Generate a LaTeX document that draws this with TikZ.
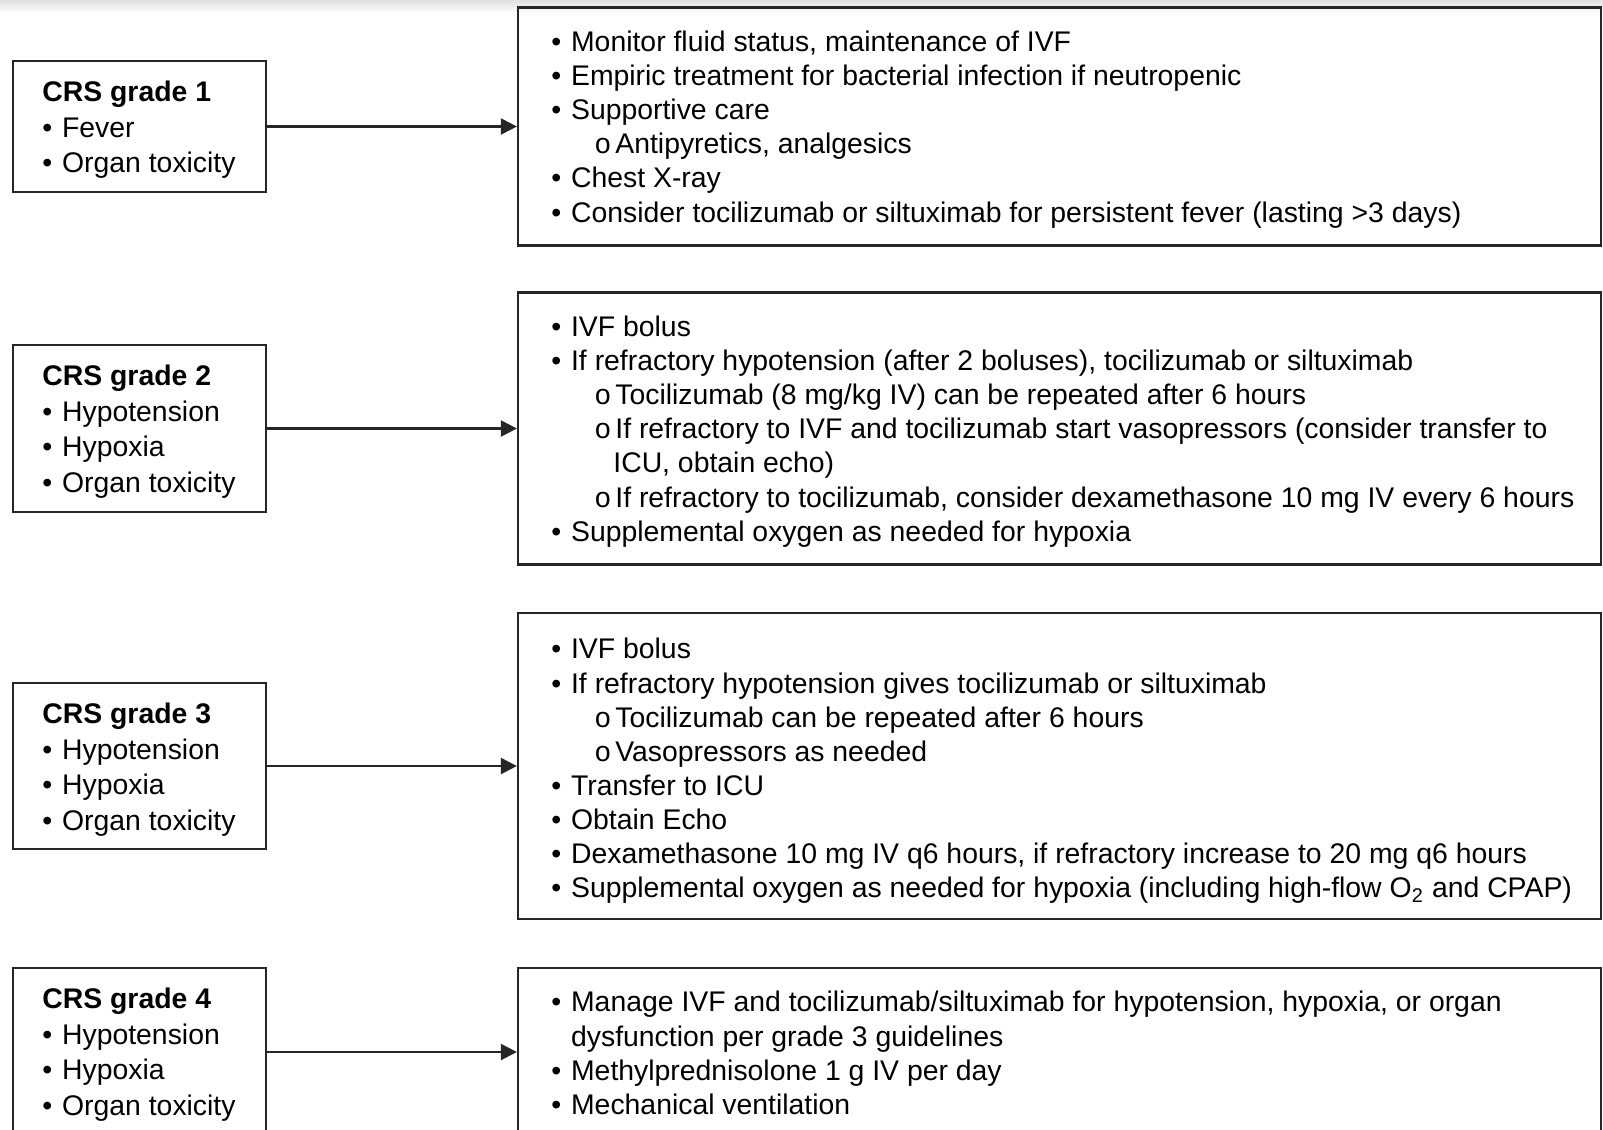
\documentclass[tikz,border=0pt]{standalone}
\usepackage{fontspec}
\setmainfont{Liberation Sans}
\newfontfamily\subfont{Liberation Mono}
\usetikzlibrary{arrows.meta}
\newcommand{\ArrTip}{Triangle[length=6.4pt,width=6.4pt]}
\newcommand{\bu}{\makebox[7.9pt][l]{\textbullet}}
\newcommand{\so}{\hspace*{17.2pt}\makebox[8.4pt][l]{\subfont o}}
\newcommand{\lines}[1]{\parbox[t]{440pt}{#1}}
\tikzset{grade/.style={draw=black!85,line width=0.9pt,minimum width=101.2pt,inner sep=0},
care/.style={draw=black!85,line width=0.9pt,minimum width=433.2pt,inner sep=0},
txt/.style={anchor=base west,inner sep=0,font=\fontsize{11.35pt}{13.65pt}\selectfont},
gtxt/.style={txt,font=\fontsize{11.35pt}{14.2pt}\selectfont},
->-/.style={line width=0.9pt,draw=black!85,-{\ArrTip}}}

\begin{document}
\begin{tikzpicture}[x=0.4pt,y=-0.4pt]
\useasboundingbox(0,0)rectangle(1603,1129);
\shade[top color=black!12,bottom color=white](0,0)rectangle(1603,13);
\node[grade,minimum height=52.4pt](g1)at(139.5,126.5){};\node[care,minimum height=95.2pt](c1)at(1059.5,126.5){};
\node[grade,minimum height=66.8pt](g2)at(139.5,428.5){};\node[care,minimum height=108.8pt](c2)at(1059.5,428.5){};
\node[grade,minimum height=66.4pt](g3)at(139.5,766){};\node[care,minimum height=122.4pt](c3)at(1059.5,766){};
\node[grade,minimum height=67.2pt](g4)at(139.5,1052){};\node[care,minimum height=67.2pt](c4)at(1059.5,1052){};
\foreach \i in {1,...,4}{\draw[->-](g\i.east)--(c\i.west);}
\node[gtxt](gt1)at([shift={(30,42)}]g1.north west){\lines{\textbf{CRS grade 1}\\\bu Fever\\\bu Organ toxicity}};
\node[gtxt](gt2)at([shift={(30,42)}]g2.north west){\lines{\textbf{CRS grade 2}\\\bu Hypotension\\\bu Hypoxia\\\bu Organ toxicity}};
\node[gtxt](gt3)at([shift={(30,42)}]g3.north west){\lines{\textbf{CRS grade 3}\\\bu Hypotension\\\bu Hypoxia\\\bu Organ toxicity}};
\node[gtxt](gt4)at([shift={(30,42)}]g4.north west){\lines{\textbf{CRS grade 4}\\\bu Hypotension\\\bu Hypoxia\\\bu Organ toxicity}};
\node[txt](ct1)at([shift={(34,45)}]c1.north west){\lines{\bu Monitor fluid status, maintenance of IVF\\
\bu Empiric treatment for bacterial infection if neutropenic\\
\bu Supportive care\\
\so Antipyretics, analgesics\\
\bu Chest X-ray\\
\bu Consider tocilizumab or siltuximab for persistent fever (lasting >3 days)}};
\node[txt](ct2)at([shift={(34,45)}]c2.north west){\lines{\bu IVF bolus\\
\bu If refractory hypotension (after 2 boluses), tocilizumab or siltuximab\\
\so Tocilizumab (8 mg/kg IV) can be repeated after 6 hours\\
\so If refractory to IVF and tocilizumab start vasopressors (consider transfer to\\
\hspace*{24.8pt}ICU, obtain echo)\\
\so If refractory to tocilizumab, consider dexamethasone 10 mg IV every 6 hours\\
\bu Supplemental oxygen as needed for hypoxia}};
\node[txt](ct3)at([shift={(34,47)}]c3.north west){\lines{\bu IVF bolus\\
\bu If refractory hypotension gives tocilizumab or siltuximab\\
\so Tocilizumab can be repeated after 6 hours\\
\so Vasopressors as needed\\
\bu Transfer to ICU\\
\bu Obtain Echo\\
\bu Dexamethasone 10 mg IV q6 hours, if refractory increase to 20 mg q6 hours\\
\bu Supplemental oxygen as needed for hypoxia (including high-flow O\textsubscript{2} and CPAP)}};
\node[txt](ct4)at([shift={(34,45)}]c4.north west){\lines{\bu Manage IVF and tocilizumab/siltuximab for hypotension, hypoxia, or organ\\
\hspace*{7.9pt}dysfunction per grade 3 guidelines\\
\bu Methylprednisolone 1 g IV per day\\
\bu Mechanical ventilation}};
\end{tikzpicture}
\end{document}
